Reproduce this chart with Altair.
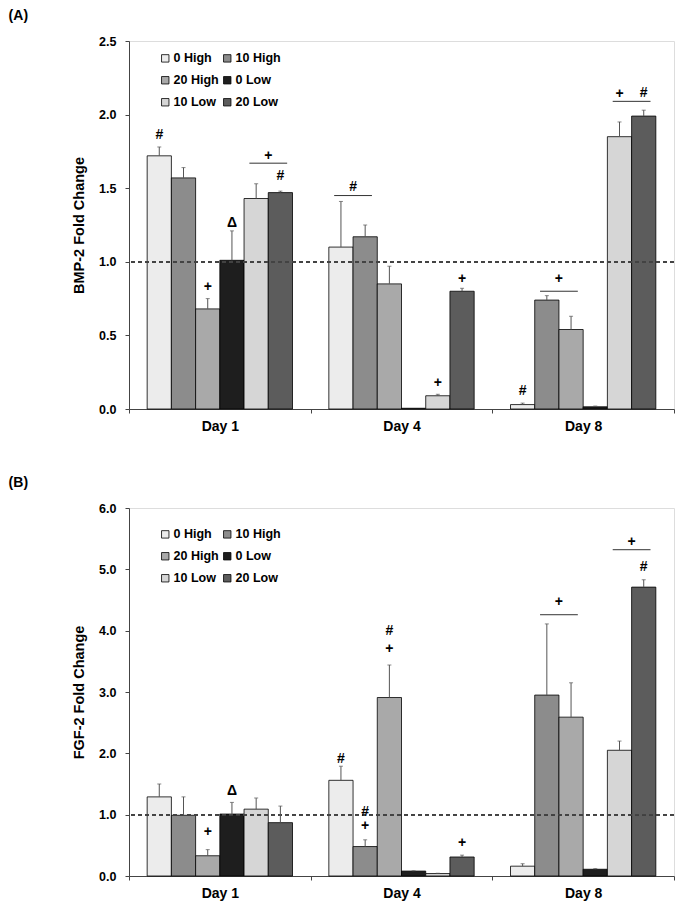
import altair as alt
import pandas as pd

FONT = "Liberation Sans"

SERIES = ["0 High", "10 High", "20 High", "0 Low", "10 Low", "20 Low"]
DAYS = ["Day 1", "Day 4", "Day 8"]
FILLS = ["#ececec", "#8c8c8c", "#a9a9a9", "#1e1e1e", "#d6d6d6", "#5c5c5c"]

# BMP-2 fold change (Day 1, Day 4, Day 8) per series
BMP_MEAN = {
    "0 High": [1.72, 1.10, 0.03],
    "10 High": [1.57, 1.17, 0.74],
    "20 High": [0.68, 0.85, 0.54],
    "0 Low": [1.01, 0.005, 0.015],
    "10 Low": [1.43, 0.09, 1.85],
    "20 Low": [1.47, 0.80, 1.99],
}
BMP_ERR = {
    "0 High": [0.06, 0.31, 0.01],
    "10 High": [0.07, 0.08, 0.03],
    "20 High": [0.07, 0.12, 0.09],
    "0 Low": [0.20, 0.0, 0.005],
    "10 Low": [0.10, 0.01, 0.10],
    "20 Low": [0.01, 0.02, 0.04],
}
# FGF-2 fold change
FGF_MEAN = {
    "0 High": [1.29, 1.56, 0.16],
    "10 High": [0.99, 0.48, 2.95],
    "20 High": [0.33, 2.91, 2.59],
    "0 Low": [1.01, 0.08, 0.11],
    "10 Low": [1.09, 0.04, 2.05],
    "20 Low": [0.87, 0.31, 4.71],
}
FGF_ERR = {
    "0 High": [0.21, 0.23, 0.04],
    "10 High": [0.30, 0.11, 1.16],
    "20 High": [0.10, 0.53, 0.56],
    "0 Low": [0.19, 0.005, 0.01],
    "10 Low": [0.18, 0.005, 0.15],
    "20 Low": [0.27, 0.03, 0.12],
}

# significance marks: (day, from series, to series, y, symbol)
BMP_MARKS = [
    ("Day 1", "0 High", "0 High", 1.86, "#"),
    ("Day 1", "20 High", "20 High", 0.83, "+"),
    ("Day 1", "0 Low", "0 Low", 1.265, "Δ"),
    ("Day 1", "10 Low", "20 Low", 1.72, "+"),
    ("Day 1", "20 Low", "20 Low", 1.58, "#"),
    ("Day 4", "0 High", "10 High", 1.51, "#"),
    ("Day 4", "10 Low", "10 Low", 0.18, "+"),
    ("Day 4", "20 Low", "20 Low", 0.88, "+"),
    ("Day 8", "0 High", "0 High", 0.125, "#"),
    ("Day 8", "10 High", "20 High", 0.88, "+"),
    ("Day 8", "10 Low", "10 Low", 2.14, "+"),
    ("Day 8", "20 Low", "20 Low", 2.15, "#"),
]
BMP_LINES = [
    ("Day 1", "10 Low", "20 Low", 1.67),
    ("Day 4", "0 High", "10 High", 1.45),
    ("Day 8", "10 High", "20 High", 0.80),
    ("Day 8", "10 Low", "20 Low", 2.09),
]
FGF_MARKS = [
    ("Day 1", "20 High", "20 High", 0.71, "+"),
    ("Day 1", "0 Low", "0 Low", 1.38, "Δ"),
    ("Day 4", "0 High", "0 High", 1.90, "#"),
    ("Day 4", "10 High", "10 High", 1.05, "#"),
    ("Day 4", "10 High", "10 High", 0.81, "+"),
    ("Day 4", "20 High", "20 High", 4.00, "#"),
    ("Day 4", "20 High", "20 High", 3.70, "+"),
    ("Day 4", "20 Low", "20 Low", 0.53, "+"),
    ("Day 8", "10 High", "20 High", 4.46, "+"),
    ("Day 8", "10 Low", "20 Low", 5.45, "+"),
    ("Day 8", "20 Low", "20 Low", 5.04, "#"),
]
FGF_LINES = [
    ("Day 8", "10 High", "20 High", 4.26),
    ("Day 8", "10 Low", "20 Low", 5.32),
]

# legend fills column by column: reorder so rows read 0H,10H / 20H,0L / 10L,20L
LEGEND_ORDER = ["0 High", "20 High", "10 Low", "10 High", "0 Low", "20 Low"]
LEGEND_FILLS = [FILLS[SERIES.index(s)] for s in LEGEND_ORDER]

GROUP_PAD = 0.1
BAR_W = (1 - 2 * GROUP_PAD) / len(SERIES)


def bar_left(day, series):
    return DAYS.index(day) + GROUP_PAD + SERIES.index(series) * BAR_W


def bar_frame(means, errs):
    rows = []
    for s in SERIES:
        for i, d in enumerate(DAYS):
            x0 = bar_left(d, s)
            rows.append({"series": s, "day": d, "x0": x0, "x1": x0 + BAR_W,
                         "xc": x0 + BAR_W / 2, "mean": means[s][i],
                         "top": means[s][i] + errs[s][i], "err": errs[s][i]})
    return pd.DataFrame(rows)


def mark_frame(marks):
    rows = []
    for d, a, b, y, t in marks:
        xc = (bar_left(d, a) + bar_left(d, b) + BAR_W) / 2
        rows.append({"xc": xc, "y": y, "text": t})
    return pd.DataFrame(rows)


def line_frame(lines):
    rows = []
    for d, a, b, y in lines:
        rows.append({"xa": bar_left(d, a) + 0.22 * BAR_W,
                     "xb": bar_left(d, b) + 0.78 * BAR_W, "y": y})
    return pd.DataFrame(rows)


label_expr = " : ".join(
    f"datum.value == {i + 0.5} ? '{d}'" for i, d in enumerate(DAYS)) + " : ''"


def panel(means, errs, marks, lines, ytitle, ymax, ystep, tag, legend_y):
    df = bar_frame(means, errs)
    xscale = alt.Scale(domain=[0, 3], nice=False, zero=False)
    xaxis = alt.Axis(
        values=[0, 0.5, 1, 1.5, 2, 2.5, 3], labelExpr=label_expr, title=None,
        grid=False, labelOverlap=False, labelFlush=False,
        labelFont=FONT, labelFontSize=14, labelFontWeight="bold", labelColor="black",
        tickSize=4, labelPadding=6, domainColor="#444", tickColor="#444",
        tickOpacity={"condition": {"test": "datum.value % 1 != 0", "value": 0}, "value": 1},
    )
    yvals = [round(ystep * k, 2) for k in range(int(round(ymax / ystep)) + 1)]
    yaxis = alt.Axis(
        values=yvals, format=".1f", title=ytitle, grid=False,
        labelFont=FONT, labelFontSize=12.5, labelFontWeight="bold", labelColor="black",
        titleFont=FONT, titleFontSize=14.5, titleFontWeight="bold", titleColor="black",
        tickSize=4, labelPadding=9, titlePadding=12,
        domainColor="#444", tickColor="#444",
    )
    legend = alt.Legend(
        orient="none", legendX=30, legendY=legend_y, columns=2, title=None,
        symbolType="square", symbolSize=55, symbolStrokeColor="black",
        symbolStrokeWidth=0.8, labelFont=FONT, labelFontSize=12.5,
        labelFontWeight="bold", labelColor="black", rowPadding=9,
        columnPadding=2, labelOffset=2,
    )
    bars = alt.Chart(df).mark_bar(stroke="black", strokeWidth=0.8).encode(
        x=alt.X("x0:Q", scale=xscale, axis=xaxis),
        x2="x1:Q",
        y=alt.Y("mean:Q", scale=alt.Scale(domain=[0, ymax], nice=False), axis=yaxis),
        y2=alt.datum(0),
        fill=alt.Fill("series:N", scale=alt.Scale(domain=LEGEND_ORDER, range=LEGEND_FILLS),
                      legend=legend),
    )
    edf = df[df["err"] > 0]
    err = alt.Chart(edf).mark_rule(color="#555", strokeWidth=1).encode(
        x="xc:Q", y="mean:Q", y2="top:Q")
    cap = alt.Chart(edf).mark_tick(orient="horizontal", size=4, thickness=1, color="#555").encode(
        x="xc:Q", y="top:Q")
    ref = alt.Chart(df).mark_rule(color="#444", strokeDash=[4, 3], strokeWidth=1).encode(
        y=alt.datum(1.0))
    txt = alt.Chart(mark_frame(marks)).mark_text(
        font=FONT, fontSize=14, fontWeight="bold", baseline="middle", color="black"
    ).encode(x="xc:Q", y="y:Q", text="text:N")
    spans = alt.Chart(line_frame(lines)).mark_rule(color="#333", strokeWidth=1).encode(
        x="xa:Q", x2="xb:Q", y="y:Q")
    return alt.layer(bars, ref, err, cap, spans, txt).properties(
        width=545, height=368,
        title=alt.TitleParams(tag, anchor="start", frame="bounds", dx=-63,
                              font=FONT, fontSize=14, fontWeight="bold", offset=12),
    )


top = panel(BMP_MEAN, BMP_ERR, BMP_MARKS, BMP_LINES, "BMP-2 Fold Change", 2.5, 0.5, "(A)", 11)
bottom = panel(FGF_MEAN, FGF_ERR, FGF_MARKS, FGF_LINES, "FGF-2 Fold Change", 6.0, 1.0, "(B)", 20)

chart = alt.vconcat(top, bottom, spacing=41).resolve_scale(fill="independent").properties(
    padding={"left": 0, "top": 0, "right": 0, "bottom": 0}
).configure_view(stroke="#444", strokeWidth=1).configure(background="white")

chart.save("out.html", embed_options={"renderer": "svg", "actions": False})
